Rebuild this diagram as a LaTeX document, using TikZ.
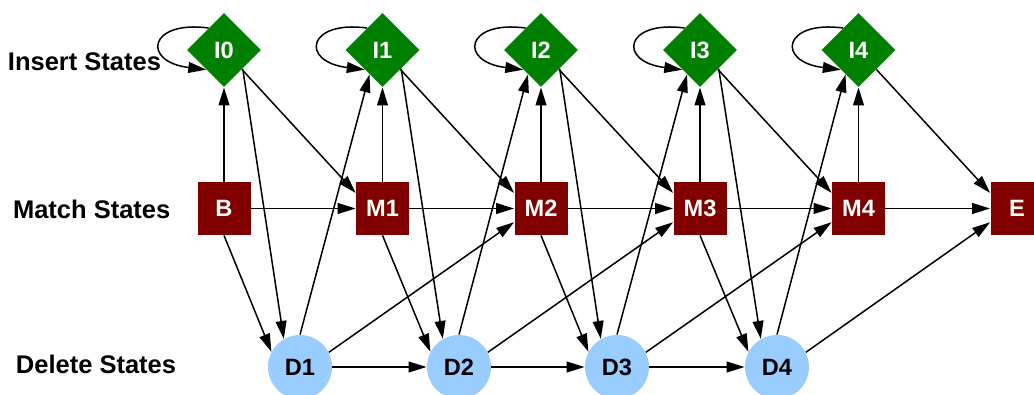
\documentclass[tikz,border=0pt]{standalone}
\usepackage{fontspec}
\setmainfont{Liberation Sans}
\usepackage{tikz}
\usetikzlibrary{arrows.meta,shapes.geometric}
\definecolor{hmmGreen}{RGB}{0,128,0}
\definecolor{hmmRed}{RGB}{128,0,0}
\definecolor{hmmBlue}{RGB}{153,204,255}

\begin{document}
\begin{tikzpicture}[x=0.5pt, y=-0.5pt,
    ins/.style={diamond, minimum width=37pt, minimum height=37pt, inner sep=0pt,
                fill=hmmGreen, text=white, font=\fontsize{11.8pt}{14pt}\selectfont\bfseries},
    mat/.style={rectangle, minimum size=26.5pt, inner sep=0pt,
                fill=hmmRed, text=white, font=\fontsize{11.8pt}{14pt}\selectfont\bfseries},
    del/.style={circle, minimum size=32pt, inner sep=0pt,
                fill=hmmBlue, font=\fontsize{11.8pt}{14pt}\selectfont\bfseries},
    arr/.style={-{Triangle[length=9pt, width=5.4pt]}, line width=0.75pt},
    lab/.style={font=\fontsize{12.75pt}{15pt}\selectfont\bfseries}]

    \useasboundingbox (0,0) rectangle (1034,395);

    % Row labels
    \node[lab] (insLab) at (84.5,62) {Insert States};
    \node[lab] (matLab) at (91.7,209.5) {Match States};
    \node[lab] (delLab) at (96,364.5) {Delete States};

    % Insert states
    \node[ins] (I0) at (224,50) {I0};
    \node[ins] (I1) at (382.5,50) {I1};
    \node[ins] (I2) at (541,50) {I2};
    \node[ins] (I3) at (700,50) {I3};
    \node[ins] (I4) at (858.5,50) {I4};

    % Match states
    \node[mat, alias=M0] (B) at (224,208.5) {B};
    \node[mat] (M1) at (382.5,208.5) {M1};
    \node[mat] (M2) at (541,208.5) {M2};
    \node[mat] (M3) at (700,208.5) {M3};
    \node[mat] (M4) at (858.5,208.5) {M4};
    \node[mat, alias=M5] (E) at (1017,208.5) {E};

    % Delete states
    \node[del] (D1) at (300,367) {D1};
    \node[del] (D2) at (459,367) {D2};
    \node[del] (D3) at (617,367) {D3};
    \node[del] (D4) at (777,367) {D4};

    % Transitions
    \foreach \i/\j in {0/1,1/2,2/3,3/4,4/5} {
      \draw[arr] (M\i) -- (I\i);
      \draw[arr] (M\i) -- (M\j);
      \draw[arr] (I\i) -- (M\j.150);
      \draw[arr] (I\i.125) .. controls +(-60,-8) and +(-65,-8) .. (I\i.228);
    }
    \foreach \i/\j in {0/1,1/2,2/3,3/4} {
      \draw[arr] (I\i.-45) -- (D\j.120);
      \draw[arr] (M\i.south) -- (D\j.152);
    }
    \foreach \i/\j in {1/2,2/3,3/4,4/5} {
      \draw[arr] (D\i.north) -- (I\i.242);
      \draw[arr] (D\i.27) -- (M\j.207);
    }
    \foreach \i/\j in {1/2,2/3,3/4}
      \draw[arr] (D\i) -- (D\j);

\end{tikzpicture}
\end{document}
